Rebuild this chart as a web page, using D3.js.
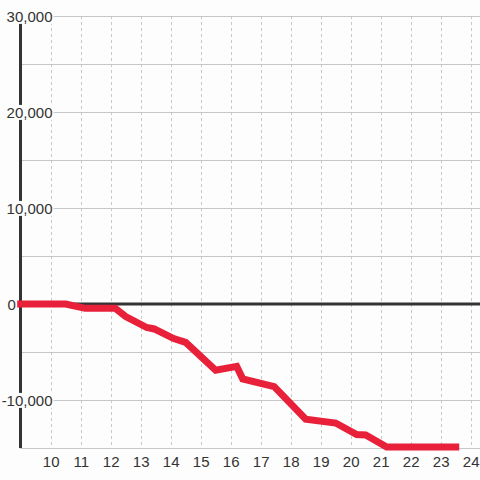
<!DOCTYPE html>
<html>
<head>
<meta charset="utf-8">
<script src="https://cdn.jsdelivr.net/npm/d3@7"></script>
<style>
  html, body { margin: 0; padding: 0; background: #fcfdfc; }
  svg { display: block; }
</style>
</head>
<body>
<script>
// data
var hours  = [9, 10.5, 11.15, 12.15, 12.5, 13.2, 13.45, 14.1, 14.5, 15.5, 16.2, 16.4, 17.45, 18.5, 19.5, 20.2, 20.5, 21.2, 23.5];
var values = [0, 0, -450, -450, -1300, -2450, -2600, -3600, -4000, -6900, -6500, -7800, -8600, -12000, -12400, -13600, -13650, -14900, -14900];
var xTicks = [10, 11, 12, 13, 14, 15, 16, 17, 18, 19, 20, 21, 22, 23, 24];
var yLabelTicks = [30000, 20000, 10000, 0, -10000];
var yGridTicks = [30000, 25000, 20000, 15000, 10000, 5000, 0, -5000, -10000, -15000];

var width = 480, height = 480;
var axisColor = "#333333";
var gridColor = "#c8c8c8";
var lineColor = "#e8203a";
var font = "'Liberation Sans', Arial, sans-serif";

var svg = d3.select("body").append("svg")
    .attr("width", width)
    .attr("height", height);

var x = d3.scaleLinear().domain([9, 24]).range([20.7, 470.7]);
var y = d3.scaleLinear().domain([-15000, 30000]).range([448, 16]);

svg.append("rect").attr("width", width).attr("height", height).attr("fill", "#fcfdfc");

// vertical dashed grid
svg.append("g").selectAll("line")
    .data(xTicks)
    .enter().append("line")
    .attr("x1", function(d) { return Math.round(x(d)) + 0.5; })
    .attr("x2", function(d) { return Math.round(x(d)) + 0.5; })
    .attr("y1", y(30000))
    .attr("y2", y(-15000))
    .attr("stroke", gridColor)
    .attr("stroke-width", 1)
    .attr("stroke-dasharray", "3,3");

// horizontal grid
svg.append("g").selectAll("line")
    .data(yGridTicks)
    .enter().append("line")
    .attr("x1", 20)
    .attr("x2", width)
    .attr("y1", function(d) { return Math.round(y(d)) + 0.5; })
    .attr("y2", function(d) { return Math.round(y(d)) + 0.5; })
    .attr("stroke", gridColor)
    .attr("stroke-width", 1);

// left axis line
svg.append("line")
    .attr("x1", 20.5).attr("x2", 20.5)
    .attr("y1", y(30000)).attr("y2", y(-15000))
    .attr("stroke", axisColor)
    .attr("stroke-width", 3);

// y labels
var fmt = d3.format(",");
var yAxis = d3.axisLeft(y)
    .tickValues(yLabelTicks)
    .tickSize(0)
    .tickPadding(0)
    .tickFormat(function(d) { return fmt(d).replace("\u2212", "-"); });

var yg = svg.append("g")
    .attr("transform", "translate(52.5,0)")
    .call(yAxis);
yg.select(".domain").remove();
yg.selectAll("text")
    .attr("font-family", font)
    .attr("font-size", 15)
    .attr("fill", axisColor)
    .attr("dy", "0.36em");
yg.selectAll(".tick")
    .filter(function(d) { return d === 0; })
    .select("text")
    .attr("text-anchor", "start")
    .attr("x", -45);

// white boxes behind the y labels
yg.selectAll(".tick").each(function() {
    var t = d3.select(this).select("text");
    var b = t.node().getBBox();
    d3.select(this).insert("rect", "text")
        .attr("x", b.x - 1)
        .attr("y", b.y + 1)
        .attr("width", b.width + 2)
        .attr("height", b.height - 2)
        .attr("fill", "#fcfdfc");
});

// x labels
var xAxis = d3.axisBottom(x)
    .tickValues(xTicks)
    .tickSize(0)
    .tickPadding(0)
    .tickFormat(d3.format("d"));

var xg = svg.append("g")
    .attr("transform", "translate(0,456)")
    .call(xAxis);
xg.select(".domain").remove();
xg.selectAll("text")
    .attr("font-family", font)
    .attr("font-size", 15)
    .attr("fill", axisColor)
    .attr("dy", "0.75em");

// zero line
svg.append("line")
    .attr("x1", 20).attr("x2", width)
    .attr("y1", y(0)).attr("y2", y(0))
    .attr("stroke", axisColor)
    .attr("stroke-width", 3);

// the series
var line = d3.line()
    .x(function(d, i) { return x(hours[i]); })
    .y(function(d) { return y(d); });

svg.append("path")
    .attr("d", line(values))
    .attr("fill", "none")
    .attr("stroke", lineColor)
    .attr("stroke-width", 7)
    .attr("stroke-linecap", "square")
    .attr("stroke-linejoin", "miter");
</script>
</body>
</html>
